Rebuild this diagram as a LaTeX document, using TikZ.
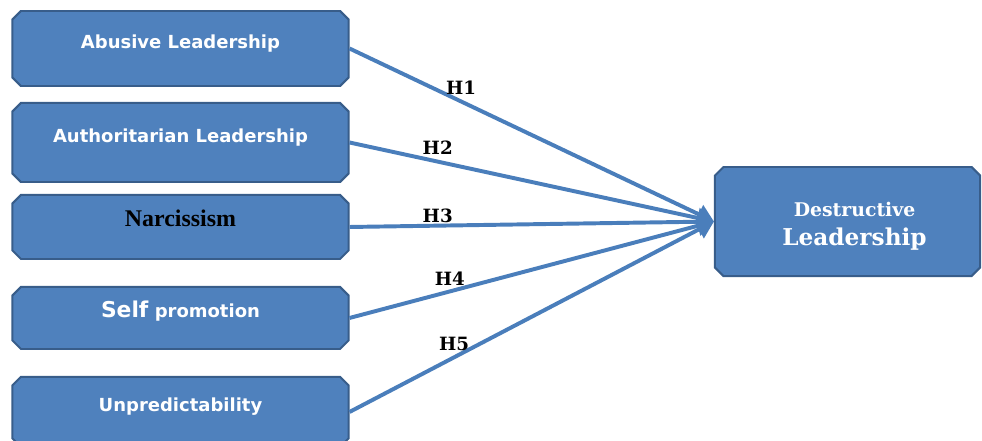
\documentclass[tikz,border=0pt]{standalone}
\usepackage{fontspec}
\setmainfont{DejaVu Serif}
\newfontfamily\boxsans{DejaVu Sans}
\newfontfamily\timesfont{Liberation Serif}
\usetikzlibrary{positioning, arrows.meta, shapes.misc}
\definecolor{boxcolor}{RGB}{79, 129, 189}
\definecolor{bordercolor}{RGB}{56, 93, 138}
\definecolor{linkcolor}{RGB}{74, 126, 187}

\begin{document}
\begin{tikzpicture}[
    x=0.025cm, y=-0.025cm,
    box/.style={chamfered rectangle, chamfered rectangle xsep=3pt, chamfered rectangle ysep=3pt, draw=bordercolor, line width=1.4pt, fill=boxcolor, minimum width=8.4cm, inner sep=0pt, align=center, text=white, font=\boxsans\bfseries\fontsize{12.8}{15}\selectfont, text height=9pt, text depth=9pt},
    hyp/.style={font=\bfseries\fontsize{13}{15}\selectfont, text=black, inner sep=1.5pt},
    arrow/.style={-{Triangle[length=12pt, width=14pt]}, line width=2.8pt, draw=linkcolor},
]
\useasboundingbox (0,0) rectangle (982,441);

% ============ predictors (left) ============
\node[box, minimum height=1.875cm] (abuse) at (180.5,48.5) {Abusive Leadership};
\node[box, minimum height=1.975cm, below=0.375cm of abuse] (author) {Authoritarian Leadership};
\node[box, minimum height=1.6cm, below=0.275cm of author, text=black, font=\timesfont\bfseries\fontsize{17}{19}\selectfont] (narc) {Narcissism};
\node[box, minimum height=1.55cm, below=0.65cm of narc] (selfpro) {{\fontsize{15.5}{17}\selectfont Self} promotion};
\node[box, minimum height=1.75cm, below=0.65cm of selfpro] (unpred) {Unpredictability};

% ============ outcome (right) ============
\node[box, minimum width=6.625cm, minimum height=2.725cm, text height=, text depth=, font=\bfseries\fontsize{13.4}{17}\selectfont] (destr) at (847.5,221.5) {\rule{0pt}{17pt}\hspace*{10pt}Destructive\\[3pt]\hspace*{10pt}{\fontsize{16.5}{21}\selectfont Leadership}};

% ============ hypotheses ============
\draw[arrow] (abuse.east) -- node[hyp, pos=0.306, above=2pt] {H1} (destr.west);
\draw[arrow] (author.east) -- node[hyp, pos=0.242, above=2pt] {H2} (destr.west);
\draw[arrow] (narc.east) -- node[hyp, pos=0.242, above=-1pt] {H3} (destr.west);
\draw[arrow] (selfpro.east) -- node[hyp, pos=0.275, above=1pt] {H4} (destr.west);
\draw[arrow] (unpred.east) -- node[hyp, pos=0.287, above=2pt] {H5} (destr.west);

\end{tikzpicture}
\end{document}
